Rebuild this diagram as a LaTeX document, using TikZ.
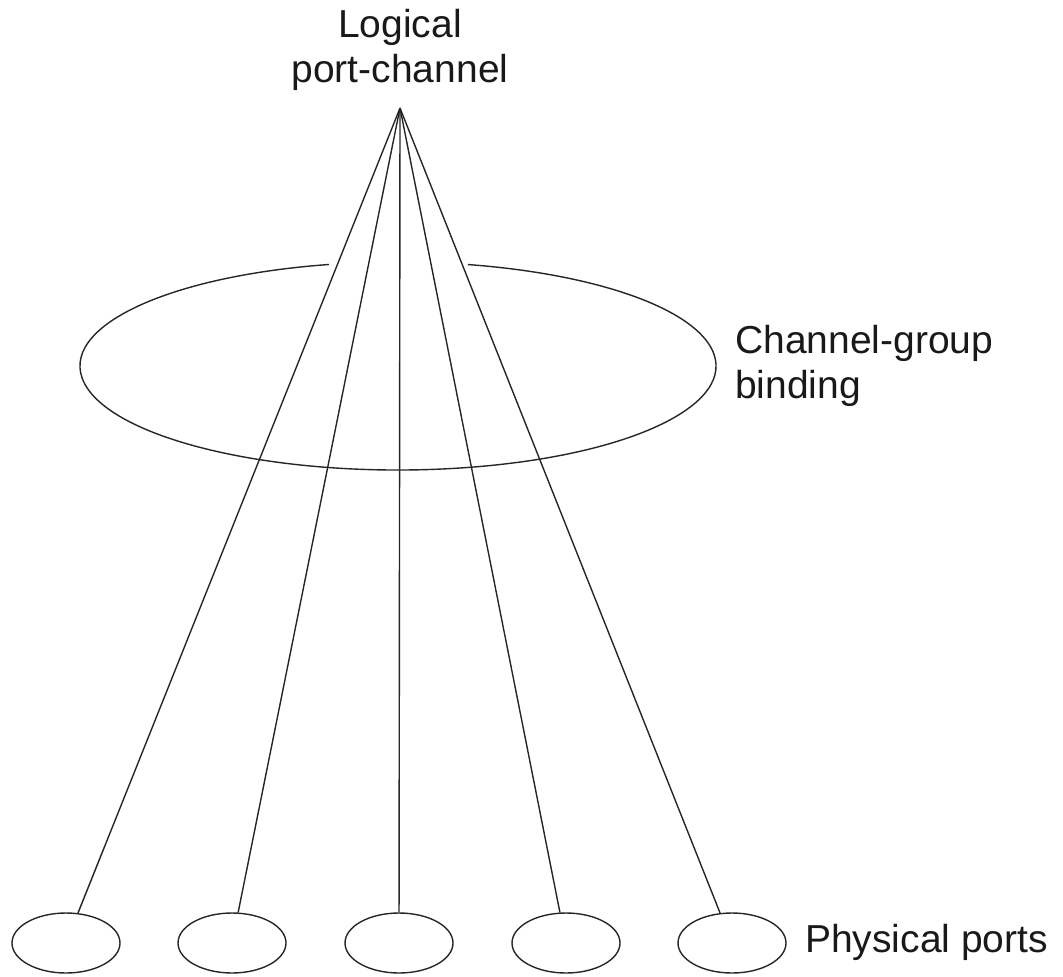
\documentclass[tikz,border=0pt]{standalone}
\usepackage{fontspec}
\setmainfont{Liberation Sans}
\usetikzlibrary{shapes.geometric}
\begin{document}
\begin{tikzpicture}[x=1pt,y=1pt,
  wire/.style={draw=black!85, line width=1.4pt},
  port/.style={ellipse, draw=black!85, line width=1.4pt, minimum width=108pt, minimum height=60pt, inner sep=0pt},
  lbl/.style={font=\fontsize{39}{45}\selectfont, inner sep=0pt, align=center, text=black!90}]
\useasboundingbox (0,0) rectangle (1063,-977);
\coordinate (apex) at (400,-108);
\coordinate (ec) at (398,-366);
\node[port] (p1) at (66,-943) {};
\node[port] (p2) at (232,-943) {};
\node[port] (p3) at (399,-943) {};
\node[port] (p4) at (566,-943) {};
\node[port] (p5) at (732,-943) {};
\node[lbl] (top) at (400,-50) {Logical\\port-channel};
\node[lbl, anchor=west, align=left] (bind) at (735,-366) {Channel-group\\binding};
\node[lbl, anchor=west] (phys) at (805,-942) {Physical ports};
\draw[wire] (ec) ++(102.5:318 and 104) arc[start angle=102.5, end angle=437.3, x radius=318, y radius=104];
\foreach \i in {1,...,5} \draw[wire] (apex) -- (p\i);
\end{tikzpicture}
\end{document}
